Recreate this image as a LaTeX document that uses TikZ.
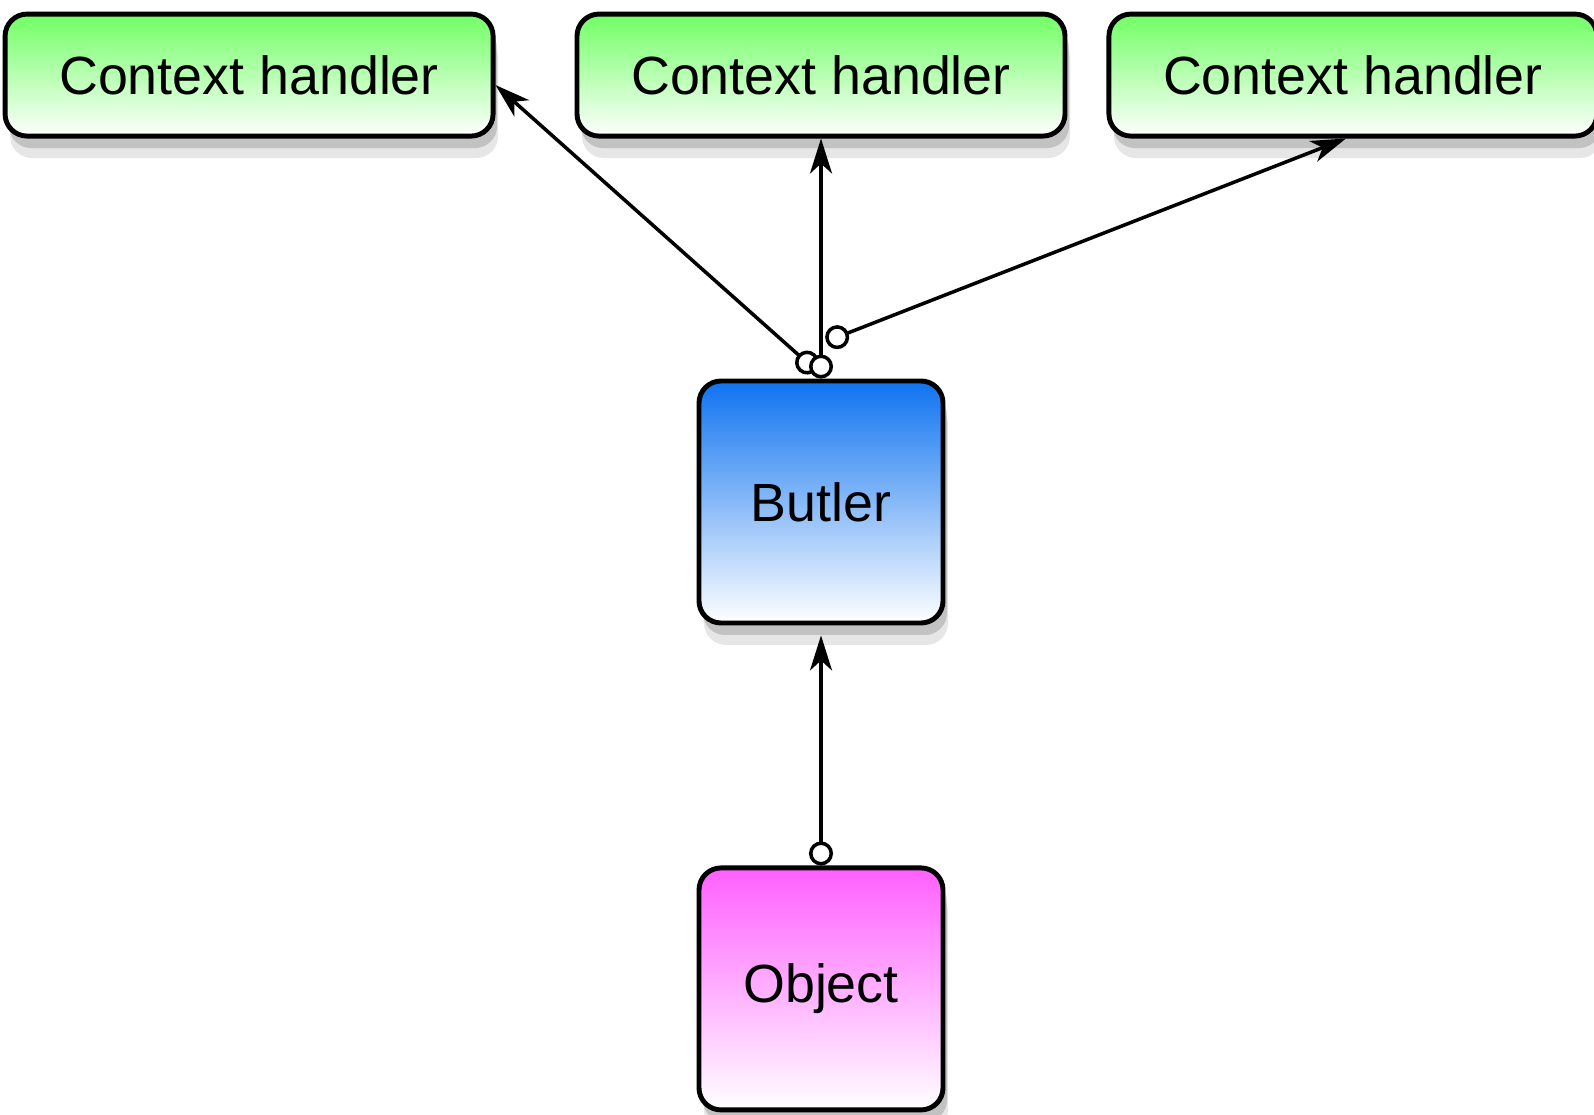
\documentclass[tikz,border=0pt]{standalone}
\usepackage{fontspec}
\setmainfont{Liberation Sans}
\usetikzlibrary{positioning, shadows, arrows.meta}

\definecolor{handlergreen}{RGB}{112,255,100}
\definecolor{butlerblue}{RGB}{15,115,240}
\definecolor{objectpink}{RGB}{255,95,255}

\begin{document}
\begin{tikzpicture}[
    >={Stealth[length=0.35cm, width=0.22cm, inset=0.1cm]},
    sock/.tip={Circle[fill=white, length=0.24cm]},
    node distance=2.4cm,
    every edge/.style={draw, line width=1pt},
    socket/.style={sock->},
    box/.style={draw, line width=1.4pt, rounded corners=0.22cm, align=center, font=\fontsize{15.3}{18}\selectfont,
        drop shadow={shadow xshift=0.05cm, shadow yshift=-0.22cm, opacity=0.2},
        drop shadow={shadow xshift=0.04cm, shadow yshift=-0.12cm, opacity=0.35}},
    handler/.style={box, top color=handlergreen, bottom color=white, minimum width=4.88cm, minimum height=1.22cm},
    square/.style={box, minimum width=2.44cm, minimum height=2.42cm}]

    \useasboundingbox (0,0) rectangle (15.94,11.14);

    \node at (8.21,6.12)[square, top color=butlerblue, bottom color=white] (butler) {Butler};
    \node [square, top color=objectpink, bottom color=white, below=of butler] (object) {Object};

    \node [handler, above=of butler] (handler2) {Context handler};
    \node [handler, left=0.79cm of handler2] (handler1) {Context handler};
    \node [handler, right=0.39cm of handler2] (handler3) {Context handler};

    %%% Relations between components
    \path ([xshift=-0.05cm, yshift=0.08cm]butler.north) edge [socket] ([yshift=-0.1cm]handler1.east);
    \path (butler.north) edge [socket] (handler2.south);
    \path ([xshift=0.05cm, yshift=0.37cm]butler.north) edge [socket] ([xshift=-0.07cm]handler3.south);
    \path (object.north) edge [socket, shorten >=0.1cm] (butler.south);

\end{tikzpicture}
\end{document}
